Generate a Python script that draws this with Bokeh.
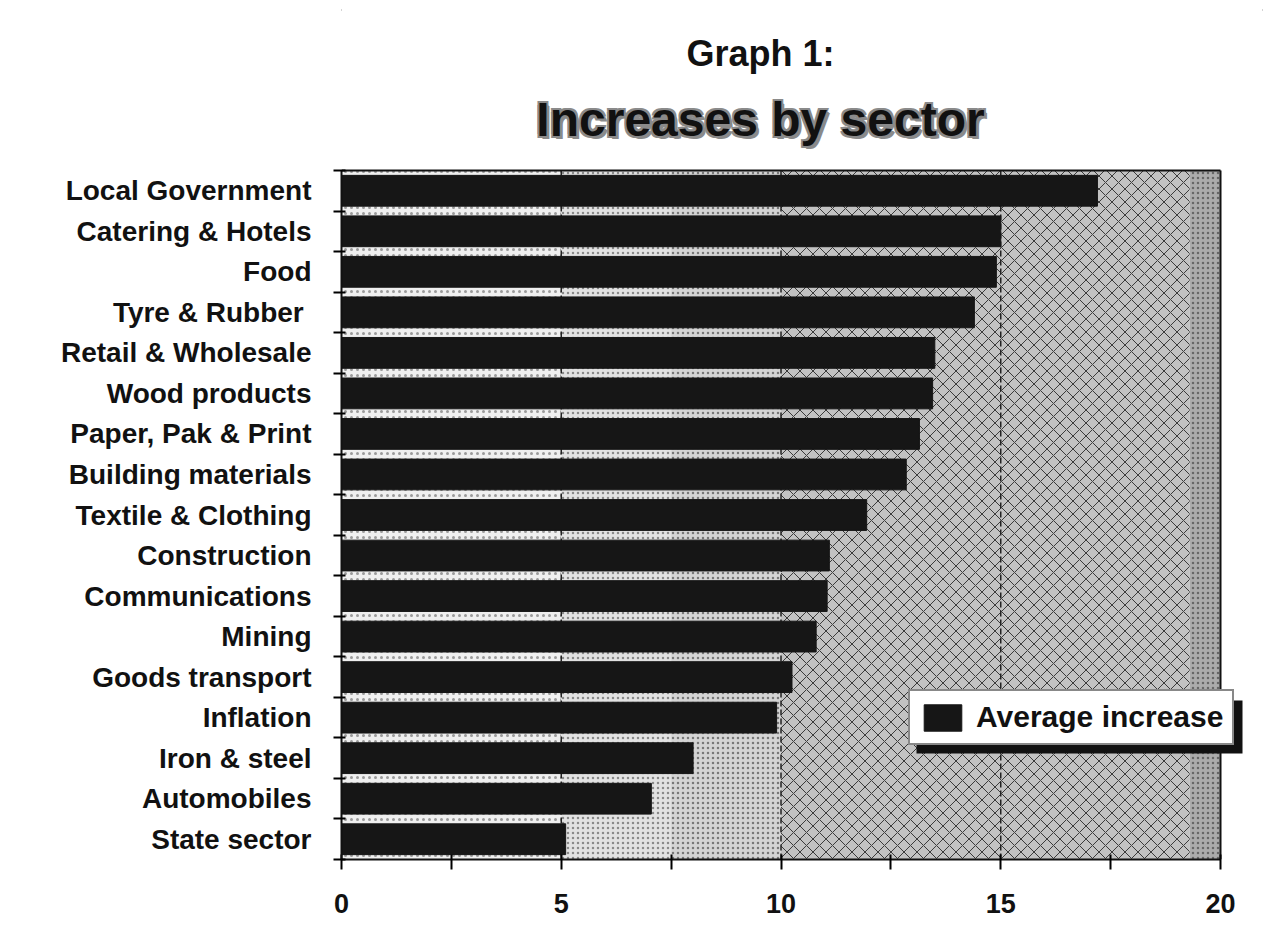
from bokeh.plotting import figure
from bokeh.models import (ColumnDataSource, FixedTicker, Label, Legend, LegendItem)
from bokeh.embed import file_html
from bokeh.resources import INLINE

# ---- data ----
sectors = ["Local Government", "Catering & Hotels", "Food", "Tyre & Rubber ",
           "Retail & Wholesale", "Wood products", "Paper, Pak & Print",
           "Building materials", "Textile & Clothing", "Construction",
           "Communications", "Mining", "Goods transport", "Inflation",
           "Iron & steel", "Automobiles", "State sector"]
increase = [17.2, 15.0, 14.9, 14.4, 13.5, 13.45, 13.15, 12.85, 11.95, 11.1,
            11.05, 10.8, 10.25, 9.9, 8.0, 7.05, 5.1]
x_ticks = [0, 5, 10, 15, 20]
x_minor = [2.5, 7.5, 12.5, 17.5]
grid_at = [5, 10, 15]
title1 = "Graph 1:"
title2 = "Increases by sector"
legend_label = "Average increase"

n = len(sectors)
ypos = [n - i - 0.5 for i in range(n)]
XMAX = x_ticks[-1]

FONT = "Liberation Sans"
PX_X = 879 / 20.0      # pixels per x unit
PX_Y = 689 / 17.0      # pixels per y unit
X0, Y0 = 341, 859      # frame origin in page pixels

def dx(px):
    return (px - X0) / PX_X

def dy(py):
    return (Y0 - py) / PX_Y

# frame extended to the right and top so annotations are not clipped
x_end = XMAX + 42 / PX_X
y_end = n + 165 / PX_Y

p = figure(width=1274, height=933, x_range=(0, x_end), y_range=(0, y_end),
           output_backend="svg", toolbar_location=None,
           min_border_left=341, min_border_right=12,
           min_border_top=5, min_border_bottom=74)
p.background_fill_color = "white"
p.border_fill_color = "white"
p.outline_line_color = None
p.xgrid.visible = False
p.ygrid.visible = False
p.styles = {"outline": "2px solid #555555", "outline-offset": "-11px"}

# background bands (gradient-like patterned fill)
bands = ColumnDataSource(dict(
    left=[0, 5, 7.5, 10, 19.3], right=[5, 7.5, 10, 19.3, 20],
    fill=["#efefef", "#e2e2e2", "#d4d4d4", "#c2c2c2", "#ababab"],
    hatch=["dot", "dot", "dot", "diagonal_cross", "dot"],
    hcol=["#9a9a9a", "#8a8a8a", "#777777", "#3a3a3a", "#666666"],
    hscale=[6, 5, 5, 13, 5],
))
p.quad(left="left", right="right", bottom=0, top=n, source=bands,
       fill_color="fill", line_color=None, hatch_pattern="hatch",
       hatch_color="hcol", hatch_scale="hscale", hatch_weight=1)

# dashed vertical grid lines at value ticks (under bars)
p.segment(x0=grid_at, x1=grid_at, y0=[0] * len(grid_at), y1=[n] * len(grid_at),
          line_color="#222222", line_width=1.5, line_dash="6 3")

src = ColumnDataSource(dict(y=ypos, v=increase, name=sectors))
bars = p.hbar(y="y", right="v", left=0, height=0.76, source=src,
              fill_color="#161616", line_color="#161616")

# plot-area border (top and right)
p.segment(x0=[0, XMAX], x1=[XMAX, XMAX], y0=[n, 0], y1=[n, n],
          line_color="#111111", line_width=2)

# legend drop shadow
p.quad(left=[dx(916)], right=[dx(1242)], top=[dy(700)], bottom=[dy(753)],
       fill_color="#111111", line_color=None)

# x axis
xa = p.xaxis[0]
xa.bounds = (0, XMAX)
xa.ticker = FixedTicker(ticks=x_ticks, minor_ticks=x_minor)
xa.axis_line_color = "#111111"
xa.axis_line_width = 2
xa.major_tick_in = 5
xa.major_tick_out = 10
xa.minor_tick_in = 5
xa.minor_tick_out = 10
xa.major_tick_line_width = 2
xa.minor_tick_line_width = 2
xa.major_label_standoff = 24
xa.major_label_text_font = FONT
xa.major_label_text_font_style = "bold"
xa.major_label_text_font_size = "27px"
xa.major_label_text_color = "#111111"

# y axis
ya = p.yaxis[0]
ya.bounds = (0, n)
ya.ticker = FixedTicker(ticks=ypos, minor_ticks=list(range(n + 1)))
ya.major_label_overrides = {y: s for y, s in zip(ypos, sectors)}
ya.axis_line_color = "#111111"
ya.axis_line_width = 2
ya.major_tick_in = 0
ya.major_tick_out = 0
ya.minor_tick_in = 4
ya.minor_tick_out = 8
ya.minor_tick_line_width = 2
ya.major_label_standoff = 22
ya.major_label_text_font = FONT
ya.major_label_text_font_style = "bold"
ya.major_label_text_font_size = "28px"
ya.major_label_text_color = "#111111"

# titles
cx = dx(760)
p.add_layout(Label(x=cx, y=dy(68), text=title1, text_align="center",
                   text_baseline="alphabetic", text_font=FONT,
                   text_font_style="bold", text_font_size="36px",
                   text_color="#111111", y_offset=15))
for ox, oy in [(-2, -2), (2, 2), (-2, 2), (2, -2), (3, -3)]:
    p.add_layout(Label(x=cx, y=dy(135), text=title2, text_align="center",
                       text_baseline="alphabetic", text_font=FONT,
                       text_font_style="bold", text_font_size="48px",
                       text_color="#8a8a8a", x_offset=ox, y_offset=16 + oy))
p.add_layout(Label(x=cx, y=dy(135), text=title2, text_align="center",
                   text_baseline="alphabetic", text_font=FONT,
                   text_font_style="bold", text_font_size="48px",
                   text_color="#111111", y_offset=16))

# legend
lg = Legend(items=[LegendItem(label=legend_label, renderers=[bars])],
            location=(567, 114), orientation="vertical",
            glyph_width=47, glyph_height=33, padding=9, spacing=0,
            label_standoff=10, margin=0,
            background_fill_color="white", background_fill_alpha=1.0,
            border_line_color="#111111", border_line_width=2,
            label_text_font=FONT, label_text_font_style="bold",
            label_text_font_size="30px", label_text_color="#111111",
            label_height=33)
p.add_layout(lg, "center")

open("out.html", "w").write(file_html(p, INLINE))
